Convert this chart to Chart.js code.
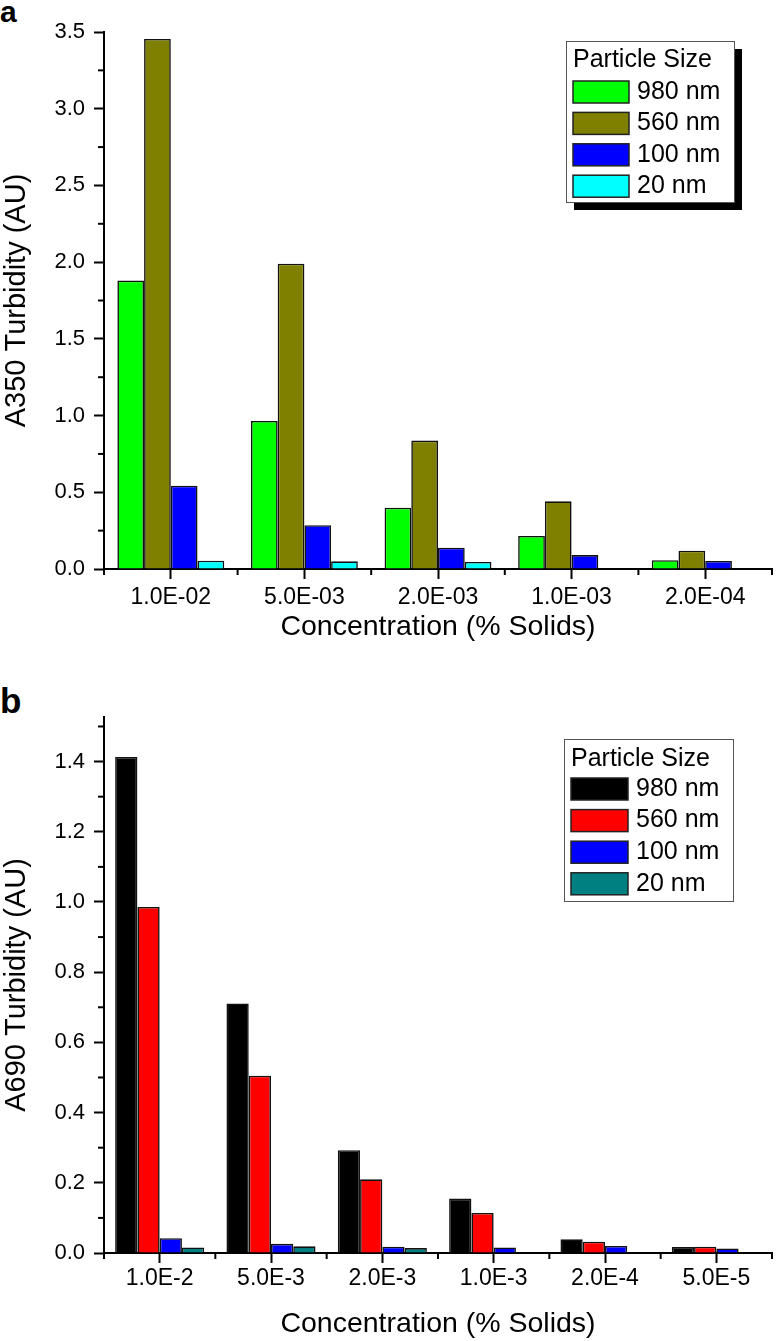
<!DOCTYPE html>
<html><head><meta charset="utf-8">
<script src="https://cdn.jsdelivr.net/npm/chart.js@4.4.1/dist/chart.umd.min.js"></script>
<style>
html,body{margin:0;padding:0;background:#fff;}
body{width:776px;height:1341px;position:relative;overflow:hidden;font-family:"Liberation Sans",Arial,sans-serif;}
canvas{position:absolute;left:0;}
#ca{top:0;}
#cb{top:650px;}
.lbl{position:absolute;font-weight:bold;color:#000;line-height:1;font-family:"Liberation Sans",Arial,sans-serif;}
</style></head><body>
<div class="lbl" style="left:0;top:-3px;font-size:30px">a</div>
<div class="lbl" style="left:0;top:683px;font-size:35px">b</div>
<canvas id="ca" width="776" height="650"></canvas>
<canvas id="cb" width="776" height="691"></canvas>
<script>
// ---------- data ----------
const seriesNames = ['980 nm', '560 nm', '100 nm', '20 nm'];

const categoriesA = ['1.0E-02', '5.0E-03', '2.0E-03', '1.0E-03', '2.0E-04'];
const a980 = [1.88, 0.965, 0.40, 0.215, 0.057];
const a560 = [3.455, 1.99, 0.837, 0.441, 0.119];
const a100 = [0.543, 0.285, 0.139, 0.091, 0.052];
const a20  = [0.054, 0.050, 0.046, null, null];
const yTicksA = [0, 0.5, 1.0, 1.5, 2.0, 2.5, 3.0, 3.5];
const yMinorA = [0.25, 0.75, 1.25, 1.75, 2.25, 2.75, 3.25];

const categoriesB = ['1.0E-2', '5.0E-3', '2.0E-3', '1.0E-3', '2.0E-4', '5.0E-5'];
const b980 = [1.413, 0.711, 0.293, 0.155, 0.039, 0.017];
const b560 = [0.986, 0.505, 0.210, 0.114, 0.032, 0.018];
const b100 = [0.042, 0.026, 0.018, 0.016, 0.020, 0.013];
const b20  = [0.016, 0.019, 0.014, null, null, null];
const yTicksB = [0, 0.2, 0.4, 0.6, 0.8, 1.0, 1.2, 1.4];
const yMinorB = [0.1, 0.3, 0.5, 0.7, 0.9, 1.1, 1.3, 1.5];

// ---------- helpers ----------
const FONT = '"Liberation Sans", Arial, sans-serif';
Chart.defaults.font.family = FONT;
Chart.defaults.color = '#000';

const minorTicks = {
  id: 'minorTicks',
  afterDraw(chart, args, opts) {
    const ctx = chart.ctx, y = chart.scales.y, x = chart.scales.x;
    ctx.save();
    ctx.strokeStyle = '#000';
    ctx.lineWidth = 2;
    opts.yMinor.forEach(v => {
      const py = y.getPixelForValue(v);
      ctx.beginPath(); ctx.moveTo(y.right - opts.len, py); ctx.lineTo(y.right, py); ctx.stroke();
    });
    for (let i = 0; i <= x.ticks.length; i++) {
      const px = x.getPixelForValue(i - 0.5);
      ctx.beginPath(); ctx.moveTo(px, x.top); ctx.lineTo(px, x.top + opts.len); ctx.stroke();
    }
    ctx.restore();
  }
};

const boxLegend = {
  id: 'boxLegend',
  afterDraw(chart, args, o) {
    const ctx = chart.ctx;
    ctx.save();
    if (o.shadow) {
      ctx.fillStyle = '#000';
      ctx.fillRect(o.x + o.shadow, o.y + o.shadow, o.w, o.h);
    }
    ctx.fillStyle = '#fff';
    ctx.fillRect(o.x, o.y, o.w, o.h);
    ctx.strokeStyle = '#555';
    ctx.lineWidth = 1;
    ctx.strokeRect(o.x + 0.5, o.y + 0.5, o.w, o.h);
    ctx.font = o.fontSize + 'px ' + FONT;
    ctx.textBaseline = 'middle';
    ctx.textAlign = 'left';
    ctx.fillStyle = '#000';
    ctx.fillText(o.title, o.titleX, o.titleY);
    chart.data.datasets.forEach((ds, i) => {
      const cy = o.firstY + i * o.rowH;
      ctx.fillStyle = ds.backgroundColor;
      ctx.fillRect(o.swX, cy - o.swH / 2, o.swW, o.swH);
      ctx.strokeStyle = '#222';
      ctx.lineWidth = 1.5;
      ctx.strokeRect(o.swX, cy - o.swH / 2, o.swW, o.swH);
      ctx.fillStyle = '#000';
      ctx.fillText(ds.label, o.textX, cy);
    });
    ctx.restore();
  }
};

function makeChart(id, cats, series, colors, yTicks, yMinor, yMax, yTitle, g) {
  const datasets = series.map((d, i) => ({
    label: seriesNames[i],
    data: d,
    backgroundColor: colors[i],
    borderColor: '#111',
    borderWidth: 1.6,
    categoryPercentage: 0.8,
    barPercentage: 1.0
  }));
  return new Chart(document.getElementById(id), {
    type: 'bar',
    data: { labels: cats, datasets },
    options: {
      responsive: false,
      animation: false,
      devicePixelRatio: 1,
      layout: { padding: { top: g.padTop, right: 4, left: 0, bottom: 0 } },
      plugins: {
        legend: { display: false },
        tooltip: { enabled: false },
        minorTicks: { yMinor, len: 6 },
        boxLegend: g.legend
      },
      scales: {
        x: {
          afterFit(s) { s.height = g.xHeight; },
          grid: { display: true, drawOnChartArea: false, offset: false, tickLength: 10, tickWidth: 2, tickColor: '#000' },
          border: { display: true, color: '#000', width: 2 },
          ticks: { font: { size: 23 }, color: '#000', padding: g.xTickPad, maxRotation: 0, minRotation: 0, autoSkip: false },
          title: { display: true, text: 'Concentration (% Solids)', font: { size: 28.5 }, color: '#000', padding: { top: 0, bottom: g.xTitlePad } }
        },
        y: {
          min: 0, max: yMax,
          afterFit(s) { s.width = 104; },
          afterBuildTicks(s) { s.ticks = yTicks.map(v => ({ value: v })); },
          grid: { display: true, drawOnChartArea: false, tickLength: 10, tickWidth: 2, tickColor: '#000' },
          border: { display: true, color: '#000', width: 2 },
          ticks: { font: { size: 22 }, color: '#000', padding: 9, callback: v => Number(v).toFixed(1) },
          title: { display: true, text: yTitle, font: { size: 29 }, color: '#000', padding: { top: 0, bottom: 0 } }
        }
      }
    },
    plugins: [minorTicks, boxLegend]
  });
}

makeChart('ca', categoriesA, [a980, a560, a100, a20],
  ['#00ff00', '#808000', '#0000ff', '#00ffff'],
  yTicksA, yMinorA, 3.5, 'A350 Turbidity (AU)',
  { padTop: 32, xHeight: 81, xTickPad: 5, xTitlePad: 6,
    legend: { x: 566, y: 41, w: 168, h: 161, shadow: 8, title: 'Particle Size', fontSize: 25,
      titleX: 573, titleY: 60, firstY: 92, rowH: 31.4, swX: 573, swW: 56, swH: 22, textX: 637 } });

makeChart('cb', categoriesB, [b980, b560, b100, b20],
  ['#000000', '#ff0000', '#0000ff', '#008080'],
  yTicksB, yMinorB, 1.527, 'A690 Turbidity (AU)',
  { padTop: 67, xHeight: 88, xTickPad: 2, xTitlePad: 0,
    legend: { x: 564, y: 89, w: 169, h: 162, shadow: 0, title: 'Particle Size', fontSize: 25,
      titleX: 571, titleY: 109, firstY: 139, rowH: 31.6, swX: 571, swW: 57, swH: 22, textX: 636 } });
</script>
</body></html>
